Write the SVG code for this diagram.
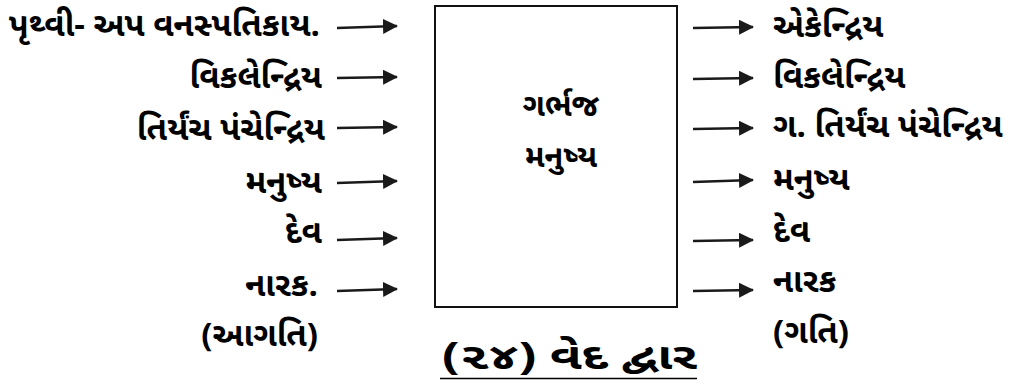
<svg xmlns="http://www.w3.org/2000/svg" width="1011" height="386" viewBox="0 0 1011 386">
<style>
.t{font-family:"Noto Sans Gujarati","Noto Sans","DejaVu Sans",sans-serif;font-weight:bold;font-size:33px;fill:#000}
.l{text-anchor:end}
.c{text-anchor:middle}
.a{stroke:#1a1a1a;stroke-width:2.6;fill:none;marker-end:url(#ah)}
</style>
<defs>
<marker id="ah" markerWidth="15" markerHeight="15" refX="14" refY="7.5" orient="auto" markerUnits="userSpaceOnUse" viewBox="0 0 15 15">
<path d="M0,0 L15,7.5 L0,15 Z" fill="#1a1a1a"/>
</marker>
</defs>
<rect width="1011" height="386" fill="#fff"/>
<g id="left-labels">
<text class="t l" x="320" y="36">પૃથ્વી- અપ વનસ્પતિકાય.</text>
<text class="t l" x="322" y="88">વિકલેન્દ્રિય</text>
<text class="t l" x="325" y="140">તિર્યંચ પંચેન્દ્રિય</text>
<text class="t l" x="322" y="193">મનુષ્ય</text>
<text class="t l" x="322" y="243">દેવ</text>
<text class="t l" x="318" y="296">નારક.</text>
<text class="t l" x="318" y="346">(આગતિ)</text>
</g>
<g id="center">
<rect x="435" y="6" width="242" height="301" fill="#fff" stroke="#111" stroke-width="2"/>
<text class="t c" x="561" y="116" style="font-size:31px">ગર્ભજ</text>
<text class="t c" x="561" y="167" style="font-size:31px">મનુષ્ય</text>
</g>
<g id="right-labels">
<text class="t" x="773" y="37">એકેન્દ્રિય</text>
<text class="t" x="773" y="88">વિકલેન્દ્રિય</text>
<text class="t" x="773" y="137">ગ. તિર્યંચ પંચેન્દ્રિય</text>
<text class="t" x="773" y="190">મનુષ્ય</text>
<text class="t" x="773" y="242">દેવ</text>
<text class="t" x="773" y="292">નારક</text>
<text class="t" x="773" y="343">(ગતિ)</text>
</g>
<g id="title">
<text class="t" x="442" y="369" style="font-size:37px" textLength="255" lengthAdjust="spacingAndGlyphs">(૨૪) વેદ દ્વાર</text>
<line x1="440" y1="378.5" x2="697" y2="378.5" stroke="#000" stroke-width="1.5"/>
</g>
<g id="connectors">
<line class="a" x1="337" y1="28" x2="397" y2="26"/>
<line class="a" x1="337" y1="78" x2="397" y2="77"/>
<line class="a" x1="337" y1="128" x2="397" y2="127"/>
<line class="a" x1="337" y1="183" x2="397" y2="181"/>
<line class="a" x1="337" y1="240" x2="397" y2="238"/>
<line class="a" x1="337" y1="291" x2="397" y2="289"/>
<line class="a" x1="693" y1="28" x2="753" y2="27"/>
<line class="a" x1="693" y1="79" x2="753" y2="78"/>
<line class="a" x1="693" y1="129" x2="753" y2="128"/>
<line class="a" x1="693" y1="182" x2="753" y2="180"/>
<line class="a" x1="693" y1="241" x2="753" y2="240"/>
<line class="a" x1="693" y1="291" x2="753" y2="290"/>
</g>
</svg>
